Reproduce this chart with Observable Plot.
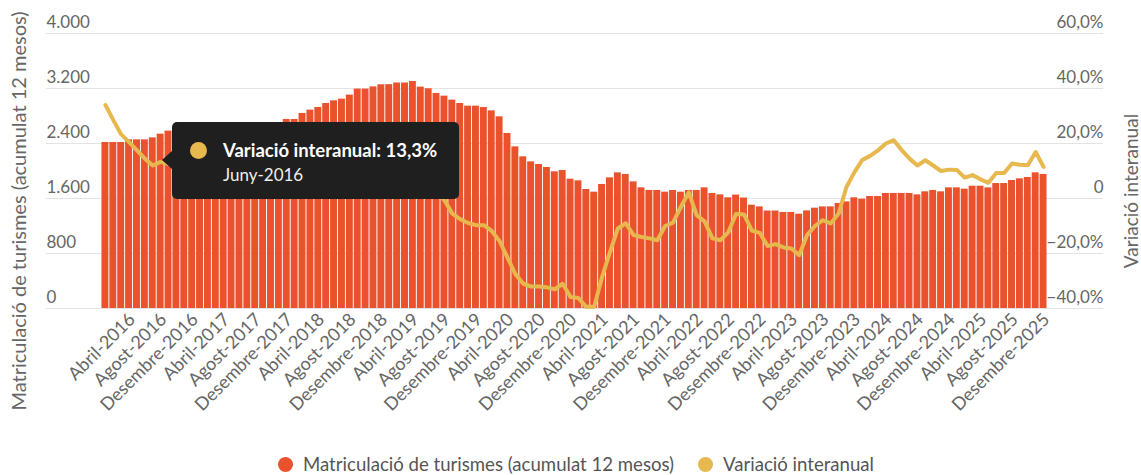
<!DOCTYPE html>
<html><head><meta charset="utf-8">
<script src="https://cdn.jsdelivr.net/npm/d3@7"></script>
<script src="https://cdn.jsdelivr.net/npm/@observablehq/plot@0.6"></script>
<style>
body{margin:0;background:#fff;font-family:Lato,"Open Sans",sans-serif;}
#wrap{position:relative;width:1141px;height:475px;overflow:hidden;}
#tip{position:absolute;left:172px;top:122px;width:287px;height:77px;background:#1f1f1f;border-radius:5px;color:#fff;}
#tip .arrow{position:absolute;left:-10px;top:29px;width:0;height:0;border-top:9px solid transparent;border-bottom:9px solid transparent;border-right:10px solid #1f1f1f;}
#tip .dot{position:absolute;left:18px;top:20px;width:17px;height:17px;border-radius:50%;background:#e6b84e;}
#tip .t1{position:absolute;left:51px;top:17px;font-weight:bold;font-size:18.5px;line-height:22px;white-space:nowrap;}
#tip .t2{position:absolute;left:51px;top:42px;font-size:17px;line-height:22px;white-space:nowrap;color:#eee;}
.leg{position:absolute;top:453px;font-size:18.6px;color:#555;white-space:nowrap;line-height:22px;}
.leg span.c{position:absolute;top:4px;width:15px;height:15px;border-radius:50%;}
</style></head><body><div id="wrap"></div>
<script>
const monthNames = ["Gener","Febrer","Març","Abril","Maig","Juny","Juliol","Agost","Setembre","Octubre","Novembre","Desembre"];
const years = [2016,2017,2018,2019,2020,2021,2022,2023,2024,2025];
const categories = years.flatMap(y => monthNames.map(m => `${m}-${y}`));

const matriculacions = [
  2415,2415,2415,2453,2453,2453,2482,2536,2580,2600,2620,2630,
  2640,2645,2650,2660,2670,2680,2685,2690,2700,2700,2705,2750,
  2750,2837,2885,2924,2982,3021,3045,3104,3191,3191,3224,3254,
  3256,3280,3280,3302,3220,3196,3128,3089,3031,2982,2943,2943,
  2924,2875,2788,2546,2351,2206,2133,2095,2051,1988,2008,1881,
  1857,1731,1692,1804,1900,1973,1950,1842,1755,1717,1717,1692,
  1717,1692,1717,1717,1755,1673,1653,1610,1650,1607,1503,1478,
  1418,1418,1397,1397,1372,1420,1459,1478,1478,1528,1551,1610,
  1590,1629,1629,1673,1673,1673,1673,1653,1697,1717,1697,1755,
  1755,1736,1779,1779,1755,1818,1818,1862,1886,1906,1973,1950
];
const variacio = [
  34.0,28.5,23.3,20.5,17.5,14.5,12.0,13.3,12.5,11.8,10.5,10.0,
  9.3,9.5,9.7,8.4,8.8,9.3,8.2,6.1,4.7,3.8,3.2,4.6,
  4.2,7.3,8.9,9.9,11.7,12.7,13.4,15.4,18.2,18.2,19.2,18.3,
  18.4,15.6,13.7,12.9,8.0,5.8,2.7,-0.6,-5.5,-7.5,-8.9,-9.7,
  -9.7,-11.8,-15.5,-21.5,-27.5,-31.0,-32.0,-32.0,-32.3,-33.0,-31.0,-35.8,
  -36.2,-39.4,-39.4,-28.5,-19.5,-10.9,-9.0,-13.3,-14.0,-14.5,-15.2,-10.0,
  -8.8,-3.0,2.2,-6.1,-8.3,-14.5,-15.2,-12.3,-5.6,-5.8,-11.7,-12.5,
  -17.3,-16.6,-17.8,-18.2,-20.6,-13.3,-10.0,-7.9,-9.1,-5.5,4.2,9.5,
  14.0,15.5,17.5,20.0,21.2,17.6,14.5,12.0,13.9,12.0,10.0,10.5,
  10.4,7.6,8.5,7.0,5.7,9.3,9.3,12.7,12.3,12.1,16.9,11.5
];
const leftTicks = [0,800,1600,2400,3200,4000];
const rightTicks = [-40,-20,0,20,40,60];
const xTickLabels = categories.filter((d,i) => i % 4 === 3);

const leftTitle = "Matriculació de turismes (acumulat 12 mesos)";
const rightTitle = "Variació interanual";
const tipTitle = "Variació interanual: 13,3%";
const tipDate = "Juny-2016";

const barColor = "#e9522d";
const lineColor = "#e6b84e";

const data = categories.map((m,i) => ({month: m, value: matriculacions[i], pct: variacio[i]}));
const pctToLeft = p => 1600 + p * 40;
const loc = d3.formatLocale({decimal: ",", thousands: ".", grouping: [3], currency: ["", ""]});
const fmtLeft = loc.format(",d");
const fmtRight = p => p === 0 ? "0" : loc.format(".1f")(p) + "%";

const chart = Plot.plot({
  width: 1141,
  height: 440,
  marginLeft: 46,
  marginRight: 38,
  marginTop: 33,
  marginBottom: 132,
  style: {fontFamily: "Lato, 'Open Sans', sans-serif", fontSize: "15px", background: "transparent"},
  x: {domain: categories, range: [101, 1047], paddingInner: 0.12, paddingOuter: 0.06, align: 0.5},
  y: {domain: [0, 4000], axis: null},
  marks: [
    Plot.ruleY(leftTicks, {stroke: "#e3e3e3", strokeWidth: 1}),
    Plot.barY(data, {x: "month", y: "value", fill: barColor}),
    Plot.line(data, {x: "month", y: d => pctToLeft(d.pct), stroke: lineColor, strokeWidth: 4, strokeLinejoin: "round", strokeLinecap: "round"}),
    Plot.text(leftTicks, {y: d => d, text: d => fmtLeft(d), frameAnchor: "left", textAnchor: "start", dy: -11, fill: "#666", fontSize: 17}),
    Plot.text(rightTicks, {y: d => pctToLeft(d), text: d => fmtRight(d), frameAnchor: "right", textAnchor: "end", dy: -11, fill: "#666", fontSize: 17}),
    Plot.axisX({ticks: xTickLabels, tickRotate: -45, tickSize: 0, tickPadding: 8, dx: 3, fontSize: 18, color: "#666", label: null}),
    Plot.text([leftTitle], {text: d => d, frameAnchor: "left", textAnchor: "middle", rotate: -90, dx: -27, dy: 40, fill: "#666", fontSize: 20}),
    Plot.text([rightTitle], {text: d => d, frameAnchor: "right", textAnchor: "middle", rotate: -90, dx: 28, dy: 20, fill: "#666", fontSize: 19})
  ]
});

const wrap = document.getElementById("wrap");
wrap.appendChild(chart);

const tip = document.createElement("div");
tip.id = "tip";
tip.innerHTML = `<div class="arrow"></div><div class="dot"></div><div class="t1"></div><div class="t2"></div>`;
tip.querySelector(".t1").textContent = tipTitle;
tip.querySelector(".t2").textContent = tipDate;
wrap.appendChild(tip);

const legendItems = [
  {label: leftTitle, color: barColor, left: 278},
  {label: rightTitle, color: lineColor, left: 698}
];
for (const it of legendItems) {
  const el = document.createElement("div");
  el.className = "leg";
  el.style.left = it.left + "px";
  el.style.paddingLeft = "25px";
  el.innerHTML = `<span class="c" style="left:0;background:${it.color}"></span>`;
  el.appendChild(document.createTextNode(it.label));
  wrap.appendChild(el);
}
</script></body></html>
